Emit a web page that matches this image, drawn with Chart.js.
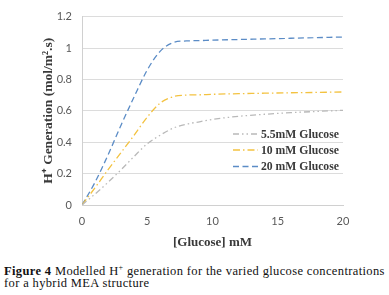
<!DOCTYPE html>
<html>
<head>
<meta charset="utf-8">
<script src="https://cdn.jsdelivr.net/npm/chart.js@4"></script>
<style>
html,body{margin:0;padding:0;background:#fff;}
#wrap{position:absolute;left:0;top:0;width:389px;height:255px;}
#cap{position:absolute;left:4px;top:266px;width:385px;font-family:"Liberation Serif",serif;font-size:12.5px;letter-spacing:0.36px;line-height:11.5px;color:#111;white-space:nowrap;}
</style>
</head>
<body>
<div id="wrap"><canvas id="c" width="389" height="255"></canvas></div>
<div id="cap"><b>Figure 4</b> Modelled H<sup style="font-size:8px;line-height:0;">+</sup> generation for the varied glucose concentrations<br>for a hybrid MEA structure</div>
<script>
const glucose = [0,1,2,3,4,5,6,7,8,9,10,12,14,16,18,20];
const series55 = [0,0.07,0.145,0.225,0.31,0.39,0.445,0.49,0.515,0.53,0.545,0.565,0.578,0.588,0.596,0.603];
const series10 = [0,0.11,0.225,0.335,0.445,0.56,0.65,0.69,0.70,0.702,0.705,0.709,0.712,0.715,0.717,0.72];
const series20 = [0,0.145,0.32,0.51,0.69,0.86,0.98,1.035,1.045,1.047,1.05,1.054,1.058,1.062,1.066,1.07];
const labels = ['5.5mM Glucose','10 mM Glucose','20 mM Glucose'];
const xTicks = [0,5,10,15,20];
const yTicks = [0,0.2,0.4,0.6,0.8,1,1.2];
const yTickLabels = ['0','0.2','0.4','0.6','0.8','1','1.2'];

const toPts = arr => arr.map((v,i)=>({x:glucose[i],y:v}));
const styles = [
  {color:'#b9b9b9', dash:[6,3,1.5,3,1.5,3]},
  {color:'#f3c240', dash:[7,3,1.5,3]},
  {color:'#5b8cc6', dash:[6,3.5]}
];
const allSeries=[series55,series10,series20];

const legendPlugin = {
  id:'inLegend',
  afterDraw(chart){
    const ctx=chart.ctx;
    const rows=[134,150,166.5];
    ctx.save();
    chart.data.datasets.forEach((ds,i)=>{
      const y=rows[i];
      ctx.strokeStyle=ds.borderColor;
      ctx.lineWidth=1.3;
      ctx.setLineDash(ds.borderDash);
      ctx.beginPath();ctx.moveTo(233,y);ctx.lineTo(258,y);ctx.stroke();
      ctx.setLineDash([]);
      ctx.fillStyle='#3a3a3a';
      ctx.font='bold 11.7px "Liberation Serif", serif';
      ctx.textBaseline='middle';ctx.textAlign='left';
      ctx.fillText(ds.label,261,y+0.5);
    });
    ctx.restore();
  }
};

new Chart(document.getElementById('c'),{
  type:'line',
  data:{datasets:allSeries.map((s,i)=>({
    label:labels[i],data:toPts(s),borderColor:styles[i].color,borderDash:styles[i].dash,
    borderWidth:1.3,pointRadius:0,cubicInterpolationMode:'monotone',fill:false
  }))},
  options:{
    responsive:false,animation:false,
    layout:{padding:{top:12,right:46,left:0,bottom:0}},
    plugins:{legend:{display:false},tooltip:{enabled:false}},
    scales:{
      x:{type:'linear',min:0,max:20,
        afterBuildTicks(s){s.ticks=xTicks.map(v=>({value:v}));},
        afterFit(s){s.height=50;},
        grid:{display:false,drawTicks:false},
        border:{display:true,color:'#d0d0d0',width:1},
        ticks:{padding:10,color:'#595959',font:{family:'Lato',size:11}},
        title:{display:true,text:'[Glucose] mM',color:'#3a3a3a',font:{family:'"Liberation Serif"',size:13,weight:'bold'},padding:{top:0,bottom:5}}
      },
      y:{min:0,max:1.2,
        afterBuildTicks(s){s.ticks=yTicks.map(v=>({value:v}));},
        afterFit(s){s.width=82;},
        grid:{color:'#dcdcdc',drawTicks:false,lineWidth:1},
        border:{display:true,color:'#d0d0d0',width:1},
        ticks:{padding:10,color:'#595959',font:{family:'Lato',size:11},
          callback:(v,i)=>yTickLabels[i]},
        title:{display:true,text:'H\u207A Generation (mol/m\u00B2.s)',color:'#3a3a3a',font:{family:'"Liberation Serif"',size:13.5,weight:'bold'},padding:{top:40,bottom:0}}
      }
    }
  },
  plugins:[legendPlugin]
});
</script>
</body>
</html>
